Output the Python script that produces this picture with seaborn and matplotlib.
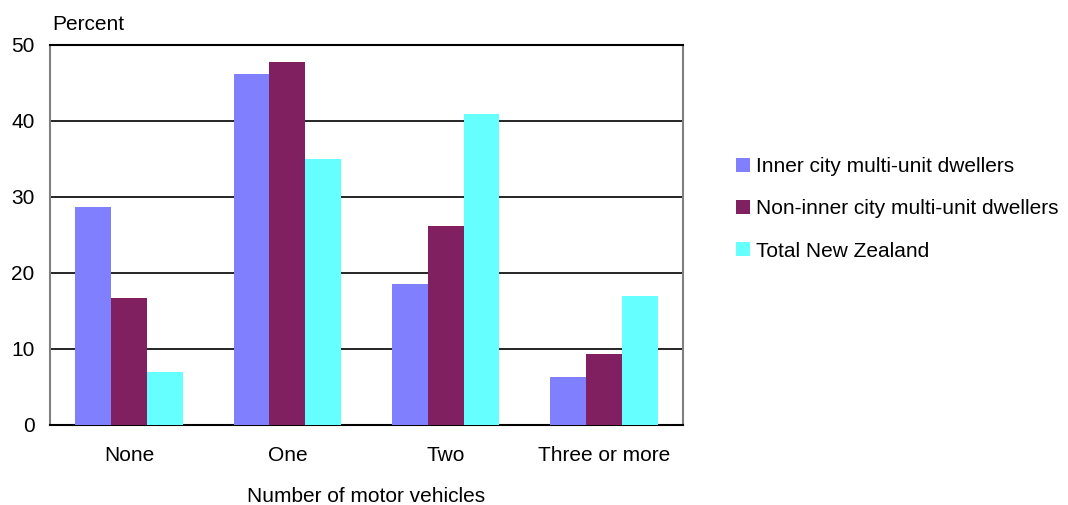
import matplotlib
matplotlib.use("Agg")
import matplotlib.pyplot as plt
import seaborn as sns
import pandas as pd

categories = ["None", "One", "Two", "Three or more"]
series_names = ["Inner city multi-unit dwellers",
                "Non-inner city multi-unit dwellers",
                "Total New Zealand"]
inner_city = [28.7, 46.2, 18.6, 6.3]
non_inner_city = [16.7, 47.8, 26.2, 9.4]
total_nz = [7.0, 35.0, 40.9, 17.0]
colors = ["#8080FF", "#802060", "#66FFFF"]
y_ticks = [0, 10, 20, 30, 40, 50]

rows = []
for name, vals in zip(series_names, [inner_city, non_inner_city, total_nz]):
    for c, v in zip(categories, vals):
        rows.append({"Category": c, "Series": name, "Value": v})
df = pd.DataFrame(rows)

sns.set_theme(style="white")
plt.rcParams["font.family"] = ["Liberation Sans", "DejaVu Sans"]
plt.rcParams["text.color"] = "black"

FS = 15

fig = plt.figure(figsize=(10.68, 5.05), dpi=100)
ax = fig.add_axes([50/1068, 1-425/505, 633/1068, 380/505])

sns.barplot(data=df, x="Category", y="Value", hue="Series", order=categories,
            hue_order=series_names, palette=colors, width=0.68, gap=0,
            saturation=1, linewidth=0, ax=ax, zorder=3)

ax.set_ylim(0, 50)
ax.set_yticks(y_ticks)
ax.set_xlim(-0.5, 3.5)
ax.grid(axis="y", color="black", linewidth=1.2, zorder=0)
ax.set_axisbelow(True)
ax.tick_params(axis="both", length=0, labelsize=FS, colors="black")
ax.tick_params(axis="y", pad=11)
ax.tick_params(axis="x", pad=15)
ax.set_ylabel("")
ax.set_xlabel("Number of motor vehicles", fontsize=FS, labelpad=16, color="black")

for side in ["left", "right"]:
    ax.spines[side].set_color("#808080")
    ax.spines[side].set_linewidth(1.5)
for side in ["top", "bottom"]:
    ax.spines[side].set_color("black")
    ax.spines[side].set_linewidth(1.5)

fig.text(52/1068, 1-24/505, "Percent", fontsize=FS, va="center", ha="left", color="black")

handles, labels = ax.get_legend_handles_labels()
leg = ax.legend(handles, labels, loc="upper left", bbox_to_anchor=(736/1068, 1-157/505),
                bbox_transform=fig.transFigure, frameon=False, fontsize=FS,
                handlelength=0.67, handleheight=0.67, handletextpad=0.3,
                labelspacing=1.12, borderaxespad=0, borderpad=0)
for t in leg.get_texts():
    t.set_color("black")

fig.savefig("out.png", dpi=100)
